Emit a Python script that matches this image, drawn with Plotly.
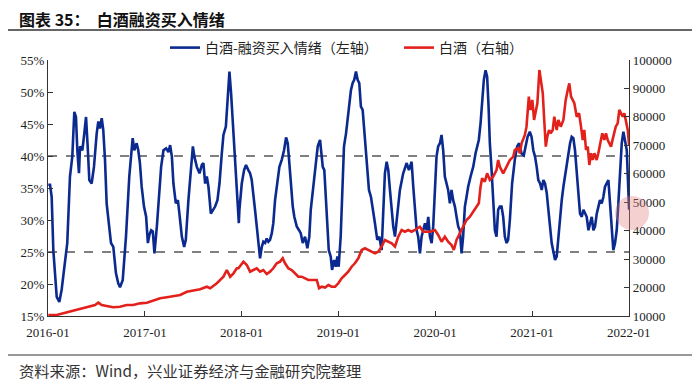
import pandas as pd
import plotly.graph_objects as go

# ---------------- data ----------------
blue_name = "白酒-融资买入情绪（左轴）"
red_name = "白酒（右轴）"

# decimal years
blue_t = [2016.003, 2016.021, 2016.038, 2016.055, 2016.090, 2016.117, 2016.141, 2016.176, 2016.199, 2016.227,
          2016.251, 2016.272, 2016.289, 2016.303, 2016.320, 2016.331, 2016.355, 2016.375, 2016.393, 2016.410,
          2016.427, 2016.451, 2016.475, 2016.503, 2016.520, 2016.537, 2016.555, 2016.571, 2016.589, 2016.606,
          2016.630, 2016.651, 2016.675, 2016.702, 2016.726, 2016.744, 2016.772, 2016.806, 2016.840, 2016.865,
          2016.875, 2016.892, 2016.916, 2016.933, 2016.950, 2016.968, 2016.992, 2017.012, 2017.030, 2017.046,
          2017.064, 2017.081, 2017.098, 2017.123, 2017.147, 2017.167, 2017.191, 2017.219, 2017.243, 2017.260,
          2017.278, 2017.294, 2017.319, 2017.340, 2017.356, 2017.381, 2017.405, 2017.422, 2017.449, 2017.474,
          2017.495, 2017.511, 2017.536, 2017.563, 2017.588, 2017.604, 2017.622, 2017.639, 2017.656, 2017.681,
          2017.701, 2017.725, 2017.749, 2017.770, 2017.794, 2017.811, 2017.836, 2017.856, 2017.873, 2017.890,
          2017.908, 2017.932, 2017.949, 2017.970, 2017.976, 2018.001, 2018.025, 2018.045, 2018.069, 2018.087,
          2018.104, 2018.121, 2018.138, 2018.156, 2018.173, 2018.190, 2018.208, 2018.224, 2018.242, 2018.259,
          2018.276, 2018.293, 2018.311, 2018.327, 2018.345, 2018.369, 2018.390, 2018.414, 2018.438, 2018.459,
          2018.476, 2018.490, 2018.507, 2018.528, 2018.544, 2018.569, 2018.593, 2018.611, 2018.631, 2018.655,
          2018.679, 2018.699, 2018.714, 2018.741, 2018.766, 2018.786, 2018.810, 2018.820, 2018.838, 2018.854,
          2018.872, 2018.885, 2018.900, 2018.920, 2018.934, 2018.955, 2018.972, 2018.989, 2019.003, 2019.024,
          2019.040, 2019.058, 2019.079, 2019.096, 2019.113, 2019.130, 2019.148, 2019.164, 2019.182, 2019.199,
          2019.216, 2019.233, 2019.251, 2019.267, 2019.292, 2019.316, 2019.337, 2019.360, 2019.378, 2019.402,
          2019.423, 2019.447, 2019.464, 2019.481, 2019.499, 2019.516, 2019.533, 2019.551, 2019.567, 2019.585,
          2019.608, 2019.636, 2019.670, 2019.706, 2019.729, 2019.757, 2019.774, 2019.791, 2019.809, 2019.825,
          2019.843, 2019.860, 2019.877, 2019.895, 2019.912, 2019.929, 2019.946, 2019.964, 2019.980, 2019.998,
          2020.015, 2020.032, 2020.050, 2020.067, 2020.084, 2020.101, 2020.119, 2020.135, 2020.153, 2020.170,
          2020.187, 2020.205, 2020.222, 2020.239, 2020.256, 2020.274, 2020.290, 2020.308, 2020.325, 2020.342,
          2020.367, 2020.394, 2020.418, 2020.435, 2020.452, 2020.470, 2020.486, 2020.504, 2020.522, 2020.538,
          2020.553, 2020.566, 2020.584, 2020.600, 2020.618, 2020.635, 2020.652, 2020.669, 2020.687, 2020.704,
          2020.721, 2020.739, 2020.755, 2020.773, 2020.796, 2020.824, 2020.848, 2020.869, 2020.894, 2020.917,
          2020.938, 2020.956, 2020.979, 2020.997, 2021.013, 2021.031, 2021.048, 2021.065, 2021.083, 2021.100,
          2021.117, 2021.134, 2021.152, 2021.168, 2021.186, 2021.203, 2021.220, 2021.238, 2021.255, 2021.272,
          2021.289, 2021.307, 2021.324, 2021.341, 2021.358, 2021.376, 2021.393, 2021.410, 2021.427, 2021.444,
          2021.462, 2021.479, 2021.496, 2021.514, 2021.531, 2021.548, 2021.565, 2021.583, 2021.600, 2021.617,
          2021.634, 2021.651, 2021.669, 2021.685, 2021.702, 2021.720, 2021.737, 2021.754, 2021.771, 2021.789,
          2021.806, 2021.823, 2021.840, 2021.858, 2021.875, 2021.892, 2021.909, 2021.927, 2021.944, 2021.961,
          2021.979, 2021.995, 2022.004]
blue_v = [35.5, 35.5, 33.6, 25.3, 18.0, 17.2, 19.1, 23.2, 26.4, 36.8,
          39.9, 46.9, 46.1, 40.9, 37.3, 41.5, 40.9, 43.5, 46.1, 41.5,
          36.25, 35.7, 38.3, 43.5, 45.4, 44.3, 45.9, 44.1, 39.4, 32.6,
          29.0, 26.4, 25.8, 21.7, 20.1, 19.5, 20.6, 27.4, 36.8, 42.0,
          42.8, 40.9, 42.0, 40.9, 38.9, 35.2, 32.1, 30.5, 26.4, 27.7,
          28.4, 28.2, 24.8, 29.0, 34.7, 38.3, 40.9, 41.2, 40.6, 41.7,
          39.9, 35.7, 32.6, 33.1, 31.0, 27.4, 25.8, 26.9, 33.1, 38.3,
          41.5, 39.9, 38.3, 37.3, 38.6, 38.9, 35.7, 36.8, 35.2, 31.0,
          31.6, 32.1, 33.1, 35.7, 40.4, 43.3, 44.6, 49.8, 53.2, 49.8,
          45.1, 38.3, 33.1, 29.5, 31.6, 35.7, 37.8, 38.6, 37.8, 37.3,
          36.25, 34.2, 31.6, 29.0, 26.4, 24.0, 25.8, 26.6, 26.4, 27.1,
          26.6, 26.9, 27.9, 29.5, 33.1, 35.7, 38.3, 39.4, 40.9, 42.9,
          42.0, 39.4, 35.7, 32.1, 30.5, 29.0, 28.4, 27.9, 26.4, 27.4,
          25.6, 27.4, 31.6, 35.7, 39.4, 41.5, 42.5, 40.9, 38.3, 37.8,
          33.1, 29.0, 25.3, 24.3, 22.2, 23.75, 22.7, 24.3, 22.7, 27.4,
          35.7, 41.5, 43.5, 46.1, 47.7, 50.3, 51.4, 51.9, 53.2, 51.9,
          51.4, 47.7, 47.2, 44.1, 38.9, 34.7, 33.6, 31.6, 29.5, 26.9,
          27.4, 25.3, 30.5, 37.3, 39.1, 37.8, 34.7, 31.0, 29.0, 27.4,
          31.0, 34.7, 37.3, 38.9, 37.8, 39.1, 35.2, 31.6, 28.4, 27.4,
          24.8, 27.4, 28.4, 29.5, 28.4, 30.5, 27.4, 26.4, 29.0, 35.7,
          39.9, 41.5, 42.0, 43.3, 40.9, 36.8, 35.7, 34.7, 32.6, 34.7,
          33.1, 32.1, 30.5, 29.0, 28.4, 24.8, 27.4, 32.1, 33.6, 35.2,
          36.8, 38.3, 40.4, 41.5, 42.5, 45.1, 48.75, 51.9, 53.4, 52.4,
          47.7, 42.0, 37.8, 32.6, 28.4, 27.4, 31.6, 32.1, 32.1, 30.5,
          27.4, 26.4, 26.9, 30.0, 35.7, 39.4, 41.5, 42.0, 40.4, 40.1,
          42.0, 43.0, 43.8, 43.0, 40.9, 39.9, 38.3, 36.25, 35.7, 34.7,
          36.25, 35.7, 34.2, 32.1, 29.0, 26.4, 24.8, 23.75, 24.3, 27.4,
          30.5, 33.1, 35.2, 36.8, 38.9, 40.4, 42.0, 43.0, 42.8, 40.9,
          36.8, 34.2, 31.0, 30.5, 31.6, 31.0, 30.5, 28.4, 29.5, 30.5,
          28.4, 29.0, 31.0, 32.1, 33.1, 32.6, 33.6, 35.2, 35.7, 36.25,
          32.6, 28.4, 25.3, 26.4, 28.4, 32.6, 37.8, 42.0, 43.8, 42.5,
          40.9, 34.7, 31.6]

red_t = [2016.003, 2016.090, 2016.158, 2016.227, 2016.296, 2016.365, 2016.434, 2016.486, 2016.520, 2016.555,
         2016.606, 2016.675, 2016.744, 2016.813, 2016.881, 2016.950, 2017.020, 2017.088, 2017.157, 2017.226,
         2017.294, 2017.364, 2017.433, 2017.501, 2017.570, 2017.639, 2017.674, 2017.743, 2017.811, 2017.846,
         2017.880, 2017.915, 2017.949, 2017.966, 2018.018, 2018.053, 2018.087, 2018.121, 2018.156, 2018.190,
         2018.224, 2018.259, 2018.293, 2018.327, 2018.362, 2018.397, 2018.424, 2018.448, 2018.482, 2018.517,
         2018.552, 2018.586, 2018.621, 2018.655, 2018.689, 2018.741, 2018.776, 2018.800, 2018.827, 2018.862,
         2018.896, 2018.931, 2018.965, 2018.999, 2019.034, 2019.068, 2019.102, 2019.137, 2019.171, 2019.206,
         2019.241, 2019.275, 2019.309, 2019.344, 2019.378, 2019.412, 2019.447, 2019.481, 2019.516, 2019.551,
         2019.585, 2019.619, 2019.654, 2019.688, 2019.722, 2019.757, 2019.791, 2019.843, 2019.877, 2019.946,
         2019.998, 2020.032, 2020.067, 2020.101, 2020.135, 2020.170, 2020.194, 2020.222, 2020.256, 2020.290,
         2020.325, 2020.360, 2020.394, 2020.428, 2020.452, 2020.470, 2020.486, 2020.514, 2020.538, 2020.566,
         2020.600, 2020.635, 2020.652, 2020.669, 2020.704, 2020.739, 2020.773, 2020.808, 2020.824, 2020.859,
         2020.876, 2020.894, 2020.928, 2020.945, 2020.969, 2020.986, 2021.003, 2021.021, 2021.038, 2021.055,
         2021.076, 2021.093, 2021.111, 2021.124, 2021.142, 2021.158, 2021.176, 2021.193, 2021.214, 2021.230,
         2021.255, 2021.272, 2021.297, 2021.324, 2021.348, 2021.369, 2021.385, 2021.403, 2021.420, 2021.437,
         2021.462, 2021.486, 2021.506, 2021.524, 2021.540, 2021.558, 2021.576, 2021.592, 2021.610, 2021.627,
         2021.644, 2021.668, 2021.685, 2021.702, 2021.726, 2021.747, 2021.764, 2021.782, 2021.799, 2021.816,
         2021.840, 2021.865, 2021.885, 2021.902, 2021.920, 2021.937, 2021.954, 2021.971, 2021.989, 2022.004]
red_v = [10350, 10350, 10950, 11510, 12110, 12700, 13270, 13870, 14680, 13870,
         13520, 13060, 13270, 13870, 13870, 14450, 14680, 15380, 16220, 16570,
         17030, 17380, 18540, 18900, 19390, 20300, 19740, 21500, 23820, 26170,
         23820, 25010, 26770, 26770, 29100, 27930, 25580, 26170, 26770, 25580,
         26170, 24770, 25580, 26770, 28530, 29100, 30290, 28530, 26770, 26170,
         25010, 23820, 23820, 23250, 22660, 22660, 22660, 19740, 20300, 20000,
         20900, 20300, 20300, 21500, 23250, 24420, 25580, 27330, 28530, 30290,
         33200, 33800, 33200, 32610, 32040, 32610, 34370, 36720, 36120, 35560,
         34370, 37890, 40240, 39640, 40240, 39640, 40240, 41400, 39640, 39640,
         40240, 38480, 36120, 37890, 36120, 34960, 33200, 36720, 39080, 41400,
         43750, 44910, 46670, 48430, 49630, 55460, 58410, 57220, 60170, 57800,
         58980, 61330, 64850, 62500, 60170, 62500, 64850, 66010, 68370, 68960,
         67210, 70720, 73640, 76560, 87110, 82430, 85950, 78910, 82430, 84790,
         96490, 92980, 88300, 80070, 69540, 73060, 75400, 74240, 75400, 80070,
         75400, 78910, 76560, 78910, 85950, 89460, 91810, 87110, 85950, 84790,
         80070, 81270, 76560, 71880, 75400, 68370, 69540, 63090, 67210, 64850,
         67210, 64850, 67210, 70720, 74240, 71880, 74240, 71880, 70720, 69540,
         73060, 76560, 77750, 82430, 81270, 80070, 81270, 77750, 75400, 70000]

ref_levels = [40, 25]          # dashed reference lines on the left axis (%)
year_ticks = [2016, 2017, 2018, 2019, 2020, 2021, 2022]

title_text = "图表 35：  白酒融资买入情绪"
source_text = "资料来源：Wind，兴业证券经济与金融研究院整理"


def to_date(y):
    base = int(y)
    return pd.Timestamp(f"{base}-01-01") + pd.Timedelta(days=(y - base) * 365.25)


blue_x = [to_date(t) for t in blue_t]
red_x = [to_date(t) for t in red_t]
blue_y = [v / 100 for v in blue_v]

BLUE = "#0b2a8f"
RED = "#e3211c"
SERIF = "Liberation Serif"
CJK = "Noto Sans CJK SC"

fig = go.Figure()
fig.add_trace(go.Scatter(x=blue_x, y=blue_y, name=blue_name, mode="lines",
                         line=dict(color=BLUE, width=2.6), yaxis="y"))
fig.add_trace(go.Scatter(x=red_x, y=red_v, name=red_name, mode="lines",
                         line=dict(color=RED, width=2.6), yaxis="y2"))

for lv in ref_levels:
    fig.add_shape(type="line", xref="paper", x0=0, x1=1, yref="y", y0=lv / 100, y1=lv / 100,
                  line=dict(color="#808080", width=2, dash="dash"), layer="below")

tick_font = dict(family=SERIF, size=13, color="#222")
tick_dates = [pd.Timestamp(f"{y}-01-01") for y in year_ticks]

# The page body adds an 8px offset, so the figure is 8px smaller than the window.
fig.update_layout(
    width=692, height=374,
    margin=dict(l=40, r=71, t=52, b=66),
    paper_bgcolor="white", plot_bgcolor="white",
    showlegend=True,
    legend=dict(orientation="h", x=(165 - 48) / 581, xanchor="left",
                y=(316 - 48) / 256, yanchor="middle",
                font=dict(family=CJK, size=14, color="#222"),
                entrywidth=189, entrywidthmode="pixels",
                bgcolor="rgba(0,0,0,0)", borderwidth=0),
    xaxis=dict(range=[pd.Timestamp("2016-01-01"), pd.Timestamp("2022-01-02")],
               tickvals=tick_dates, ticktext=[f"{y}-01" for y in year_ticks],
               ticks="inside", ticklen=5, tickcolor="#333", showgrid=False, zeroline=False,
               showline=True, linecolor="#333", linewidth=1.2, tickfont=tick_font,
               ticklabelstandoff=4),
    yaxis=dict(range=[0.15, 0.55], dtick=0.05, tickformat=".0%", ticks="inside", ticklen=5,
               tickcolor="#333", showgrid=False, zeroline=False, showline=True,
               linecolor="#333", linewidth=1.2, tickfont=tick_font),
    yaxis2=dict(range=[10000, 100000], dtick=10000, tickformat="d", overlaying="y", side="right",
                ticks="inside", ticklen=5, tickcolor="#333", showgrid=False, zeroline=False,
                showline=True, linecolor="#333", linewidth=1.2, tickfont=tick_font),
)

# title, rules and source note
fig.add_annotation(text="<b>" + title_text + "</b>", xref="paper", yref="paper",
                   x=-31 / 581, y=(316 - 19) / 256, xanchor="left", yanchor="middle", showarrow=False,
                   font=dict(family=CJK, size=16, color="#111"))
fig.add_shape(type="line", xref="paper", yref="paper", x0=-40 / 581, x1=647 / 581,
              y0=(316 - 30) / 256, y1=(316 - 30) / 256, line=dict(color="#333", width=1.5))
fig.add_shape(type="line", xref="paper", yref="paper", x0=-40 / 581, x1=647 / 581,
              y0=(316 - 355) / 256, y1=(316 - 355) / 256, line=dict(color="#333", width=1.2))
fig.add_annotation(text=source_text, xref="paper", yref="paper",
                   x=-31 / 581, y=(316 - 370) / 256, xanchor="left", yanchor="middle", showarrow=False,
                   font=dict(family=CJK, size=15.3, color="#333"))
# translucent touch marker seen in the reference
fig.add_shape(type="circle", xref="paper", yref="paper", x0=567 / 581, x1=601 / 581,
              y0=86 / 256, y1=120 / 256, line=dict(width=0), fillcolor="rgba(225,120,120,0.35)")

fig.write_html("out.html")
